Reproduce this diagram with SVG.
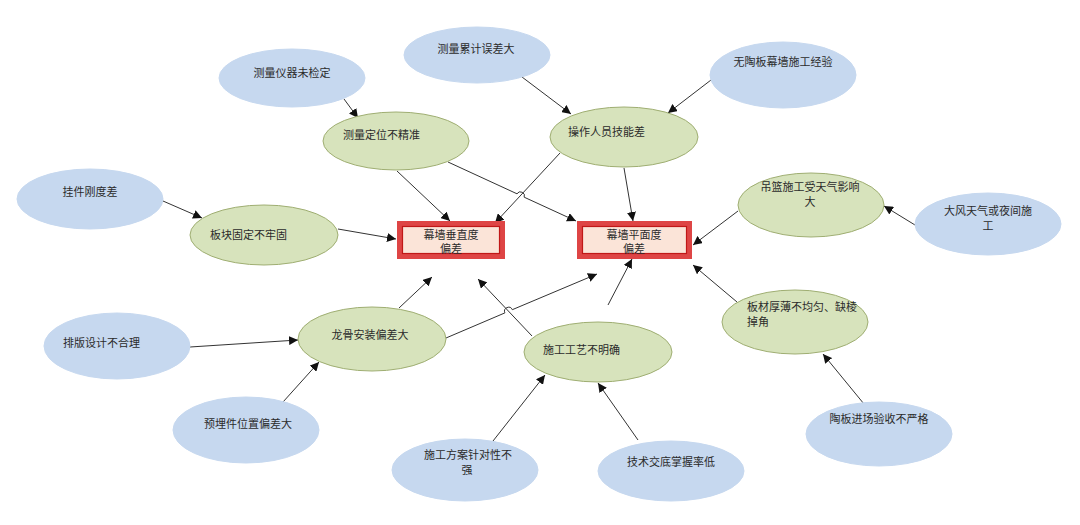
<svg xmlns="http://www.w3.org/2000/svg" width="1080" height="525" viewBox="0 0 1080 525">
<defs>
<marker id="ah" viewBox="0 0 10 10" refX="10" refY="5" markerWidth="9" markerHeight="9" markerUnits="userSpaceOnUse" orient="auto">
<path d="M0,0 L10,5 L0,10 z" fill="#111"/>
</marker>
</defs>
<style>
text{font-family:"Noto Sans CJK SC","Noto Sans",sans-serif;font-size:11px;fill:#2b2b2b}
.c{text-anchor:middle}
.g{fill:#d7e3bc;stroke:#9fae72;stroke-width:1}
.b{fill:#c6d8ef;stroke:#c6d8ef;stroke-width:1}
.ro{fill:#fbe4d8;stroke:#de4545;stroke-width:5}
.ri{fill:none;stroke:#c01818;stroke-width:1.2}
.cn path{fill:none;stroke:#333;stroke-width:1;marker-end:url(#ah)}
</style>
<rect width="1080" height="525" fill="#fff"/>

<g class="cn" id="connectors">
<path d="M344,99 L358,118"/>
<path d="M522,77 L571,114"/>
<path d="M711,80 L668,113"/>
<path d="M397,171 L450,221"/>
<path d="M448,162 L517,193.8 A4,4 0 0 1 524.2,197.2 L576,221"/>
<path d="M560,153 L495,223"/>
<path d="M624,168 L633,221"/>
<path d="M163,201 L202,218"/>
<path d="M338,229 L396,239"/>
<path d="M738,211 L693,245"/>
<path d="M915,225 L884,206"/>
<path d="M737,302 L693,265"/>
<path d="M864,404 L823,354"/>
<path d="M190,347 L298,340"/>
<path d="M283,402 L319,362"/>
<path d="M399,308 L432,277"/>
<path d="M446,338 L504.9,312.9 A4,4 0 0 1 512.3,309.7 L597,274"/>
<path d="M532,336 L478,279"/>
<path d="M608,305 L632,259"/>
<path d="M493,441 L545,375"/>
<path d="M638,440 L598,383"/>
</g>

<g id="n-chuizhi">
<rect class="ro" x="399.5" y="223.5" width="103" height="33"/>
<rect class="ri" x="402.5" y="226.5" width="97" height="27"/>
<text class="c" x="451" y="238.5">幕墙垂直度</text>
<text class="c" x="451" y="253">偏差</text>
</g>
<g id="n-pingmian">
<rect class="ro" x="579.5" y="223.5" width="110" height="33"/>
<rect class="ri" x="582.5" y="226.5" width="104" height="27"/>
<text class="c" x="634" y="238.5">幕墙平面度</text>
<text class="c" x="634" y="253">偏差</text>
</g>

<g id="n-celiangdingwei"><ellipse class="g" cx="396" cy="141" rx="73" ry="29"/><text x="343" y="139">测量定位不精准</text></g>
<g id="n-caozuo"><ellipse class="g" cx="624" cy="137" rx="74" ry="30"/><text x="568" y="136">操作人员技能差</text></g>
<g id="n-bankuai"><ellipse class="g" cx="264" cy="235" rx="74" ry="30"/><text x="210" y="239">板块固定不牢固</text></g>
<g id="n-diaolan"><ellipse class="g" cx="811" cy="205" rx="73" ry="32"/><text class="c" x="810" y="191">吊篮施工受天气影响</text><text class="c" x="810" y="206">大</text></g>
<g id="n-bancai"><ellipse class="g" cx="795" cy="322" rx="73" ry="32"/><text x="747" y="311">板材厚薄不均匀、缺棱</text><text x="747" y="326">掉角</text></g>
<g id="n-longgu"><ellipse class="g" cx="372" cy="339" rx="74" ry="32"/><text class="c" x="370" y="339">龙骨安装偏差大</text></g>
<g id="n-shigonggongyi"><ellipse class="g" cx="598" cy="352" rx="74" ry="30"/><text x="543" y="354">施工工艺不明确</text></g>

<g id="n-yiqi"><ellipse class="b" cx="292" cy="78" rx="73" ry="29"/><text class="c" x="292" y="77">测量仪器未检定</text></g>
<g id="n-leiji"><ellipse class="b" cx="477" cy="55" rx="73" ry="28"/><text class="c" x="476" y="53">测量累计误差大</text></g>
<g id="n-jingyan"><ellipse class="b" cx="783" cy="75" rx="73" ry="33"/><text class="c" x="783" y="66">无陶板幕墙施工经验</text></g>
<g id="n-guajian"><ellipse class="b" cx="90" cy="199" rx="73" ry="30"/><text class="c" x="90" y="196">挂件刚度差</text></g>
<g id="n-dafeng"><ellipse class="b" cx="988" cy="224" rx="73" ry="31"/><text class="c" x="988" y="215">大风天气或夜间施</text><text class="c" x="988" y="230">工</text></g>
<g id="n-paiban"><ellipse class="b" cx="117" cy="346" rx="73" ry="33"/><text x="63" y="347">排版设计不合理</text></g>
<g id="n-yumai"><ellipse class="b" cx="246" cy="430" rx="73" ry="33"/><text class="c" x="248" y="428">预埋件位置偏差大</text></g>
<g id="n-fangan"><ellipse class="b" cx="465" cy="470" rx="73" ry="31"/><text class="c" x="468" y="459">施工方案针对性不</text><text class="c" x="467" y="474">强</text></g>
<g id="n-jiaodi"><ellipse class="b" cx="671" cy="471" rx="73" ry="30"/><text class="c" x="671" y="466">技术交底掌握率低</text></g>
<g id="n-taoban"><ellipse class="b" cx="879" cy="434" rx="73" ry="32"/><text class="c" x="879" y="423">陶板进场验收不严格</text></g>
</svg>
